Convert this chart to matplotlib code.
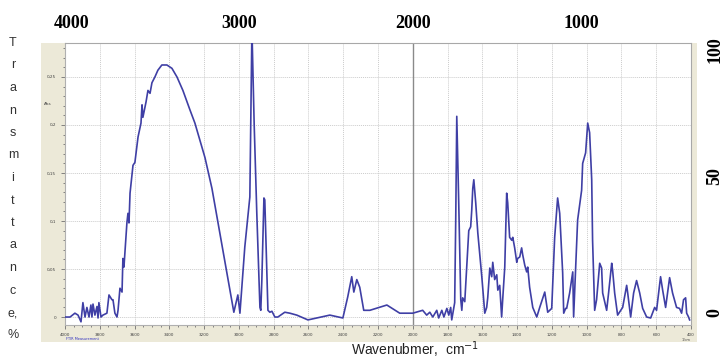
import numpy as np
import matplotlib.pyplot as plt
from matplotlib.patches import Rectangle
from matplotlib.ticker import MultipleLocator, FixedLocator

# spectrum: wavenumber (cm-1) and absorbance
wavenumber = [4000, 3971, 3943, 3925, 3908, 3897, 3885, 3874, 3862, 3851, 3845, 3839,
              3828, 3816, 3810, 3805, 3793, 3782, 3759, 3747, 3730, 3724, 3713, 3701,
              3695, 3684, 3672, 3667, 3661, 3644, 3638, 3632, 3626, 3609, 3598, 3580,
              3563, 3557, 3552, 3534, 3523, 3511, 3500, 3483, 3466, 3443, 3414, 3385,
              3356, 3322, 3282, 3253, 3195, 3155, 3029, 3006, 2994, 2966, 2937, 2932,
              2925, 2912, 2897, 2879, 2874, 2868, 2856, 2851, 2839, 2833, 2822, 2810,
              2793, 2776, 2736, 2707, 2667, 2603, 2552, 2477, 2402, 2374, 2351, 2339,
              2322, 2305, 2282, 2247, 2149, 2075, 2000, 1943, 1920, 1902, 1885, 1862,
              1851, 1833, 1821, 1804, 1793, 1782, 1776, 1759, 1753, 1747, 1736, 1724,
              1718, 1713, 1701, 1690, 1678, 1667, 1661, 1655, 1649, 1638, 1626, 1603,
              1586, 1575, 1569, 1557, 1546, 1540, 1529, 1517, 1511, 1500, 1489, 1483,
              1471, 1460, 1454, 1443, 1431, 1425, 1414, 1402, 1397, 1385, 1374, 1368,
              1356, 1345, 1339, 1328, 1310, 1287, 1270, 1241, 1224, 1201, 1184, 1167,
              1155, 1144, 1138, 1132, 1121, 1115, 1098, 1080, 1075, 1057, 1052, 1029,
              1023, 1006, 994, 983, 971, 966, 954, 943, 925, 914, 908, 885, 874, 856,
              851, 839, 822, 793, 770, 764, 747, 730, 713, 695, 678, 655, 632, 609,
              598, 575, 563, 546, 523, 506, 483, 466, 454, 443, 431, 425, 414, 408]
absorbance = [0.0, 0.0, 0.004, 0.002, -0.005, 0.015, 0.0, 0.010, 0.0, 0.0125, 0.0, 0.0135,
              0.002, 0.011, -0.001, 0.015, 0.0, 0.002, 0.004, 0.023, 0.018, 0.018, 0.004, 0.0,
              0.007, 0.030, 0.026, 0.061, 0.052, 0.098, 0.108, 0.098, 0.129, 0.158, 0.161, 0.1875,
              0.202, 0.221, 0.208, 0.224, 0.236, 0.233, 0.244, 0.250, 0.257, 0.2625, 0.2625, 0.259,
              0.250, 0.236, 0.216, 0.202, 0.166, 0.134, 0.005, 0.023, 0.004, 0.073, 0.125, 0.20,
              0.30, 0.20, 0.108, 0.010, 0.007, 0.0385, 0.124, 0.122, 0.046, 0.007, 0.005, 0.006,
              0.0, 0.0, 0.005, 0.004, 0.002, -0.003, -0.001, 0.002, -0.001, 0.021, 0.042, 0.026,
              0.039, 0.031, 0.007, 0.007, 0.0125, 0.004, 0.004, 0.007, 0.002, 0.005, 0.0, 0.007,
              -0.001, 0.007, 0.0, 0.009, 0.002, 0.010, -0.003, 0.015, 0.101, 0.209, 0.121, 0.018,
              0.007, 0.020, 0.016, 0.052, 0.090, 0.094, 0.111, 0.134, 0.143, 0.119, 0.0875, 0.042,
              0.004, 0.010, 0.020, 0.051, 0.042, 0.057, 0.039, 0.044, 0.028, 0.033, 0.0, 0.018,
              0.052, 0.129, 0.119, 0.083, 0.080, 0.083, 0.072, 0.057, 0.061, 0.0625, 0.072, 0.065,
              0.054, 0.047, 0.052, 0.031, 0.010, 0.0, 0.010, 0.026, 0.005, 0.009, 0.083, 0.124,
              0.108, 0.067, 0.046, 0.004, 0.009, 0.009, 0.025, 0.047, 0.0, 0.080, 0.101, 0.132,
              0.160, 0.171, 0.202, 0.192, 0.143, 0.080, 0.007, 0.018, 0.056, 0.051, 0.025, 0.007, 0.025, 0.056,
              0.049, 0.025, 0.002, 0.010, 0.033, 0.025, 0.0, 0.025, 0.038, 0.025, 0.009, 0.0, -0.001, 0.010,
              0.007, 0.042, 0.028, 0.010, 0.041, 0.025, 0.010, 0.009, 0.004, 0.018, 0.020, 0.004, 0.0, -0.003]

x_ticks = [4000, 3800, 3600, 3400, 3200, 3000, 2800, 2600, 2400, 2200, 2000,
           1800, 1600, 1400, 1200, 1000, 800, 600, 400]
y_ticks = [0, 0.05, 0.1, 0.15, 0.2, 0.25]
y_tick_labels = ['0', '0,05', '0,1', '0,15', '0,2', '0,25']
top_labels = ['4000', '3000', '2000', '1000']
right_labels = ['100', '50', '0']
side_title = ['T', 'r', 'a', 'n', 's', 'm', 'i', 't', 't', 'a', 'n', 'c', 'e,', '%']

W, H = 726, 359
fig = plt.figure(figsize=(W / 100, H / 100), dpi=100)

def px(x, y):
    return x / W, 1 - y / H

# tan frame of the instrument software window
fig.patches.append(Rectangle(px(41, 342), (697 - 41) / W, (342 - 43) / H,
                             transform=fig.transFigure, facecolor='#ece9d8',
                             edgecolor='none', zorder=-5))

ax = fig.add_axes([65 / W, 1 - 325 / H, (691 - 65) / W, (325 - 43) / H], zorder=2)
ax.set_facecolor('white')
ax.plot(wavenumber, absorbance, color='#3f3fa5', lw=1.2, zorder=3)
ax.set_xlim(4000, 400)
ax.set_ylim(-0.0083, 0.2854)

ax.xaxis.set_major_locator(FixedLocator(x_ticks))
ax.xaxis.set_minor_locator(MultipleLocator(50))
ax.set_xticklabels([str(t) for t in x_ticks])
ax.yaxis.set_major_locator(FixedLocator(y_ticks))
ax.yaxis.set_minor_locator(MultipleLocator(0.01))
ax.set_yticklabels(y_tick_labels)
ax.tick_params(axis='both', which='both', direction='out', color='#707070',
               labelsize=3, labelcolor='#404040', width=0.6)
ax.tick_params(which='major', length=3)
ax.tick_params(which='minor', length=1.5)
ax.tick_params(axis='x', pad=3)
ax.grid(True, which='major', color='#cccccc', ls=(0, (1, 1)), lw=0.7)
ax.axvline(2000, color='#8a8a8a', lw=1.0, zorder=2)
for s in ['top', 'right']:
    ax.spines[s].set_color('#a8a8a8')
ax.spines['left'].set_color('#b0b0b0')
ax.spines['bottom'].set_color('#b0b0b0')

fig.text(*px(48, 104), 'Abs', fontsize=3, color='#404040', ha='center', va='center')
fig.text(*px(66, 339), 'FTIR Measurement', fontsize=2.5, color='#3030c0', ha='left', va='center')
fig.text(*px(686, 340), '1/cm', fontsize=2.5, color='#404040', ha='center', va='center')

# labels added on top of the screenshot
for lab, xp in zip(top_labels, [72, 239, 413, 581]):
    fig.text(*px(xp, 23), lab, fontsize=13, fontweight='bold',
             family='Liberation Serif', ha='center', va='center')
for lab, yp in zip(right_labels, [50, 176, 313]):
    fig.text(*px(715, yp), lab, fontsize=13, fontweight='bold', rotation=90,
             family='Liberation Serif', ha='center', va='center')
for i, ch in enumerate(side_title):
    fig.text(*px(13, 43 + i * 22.5), ch, fontsize=9, color='#333333',
             family='Liberation Sans', ha='center', va='center')
fig.text(*px(415, 350), 'Wavenubmer,  cm$^{-1}$', fontsize=10, color='#222222',
         family='Liberation Sans', ha='center', va='center')

fig.savefig('out.png', dpi=100)
